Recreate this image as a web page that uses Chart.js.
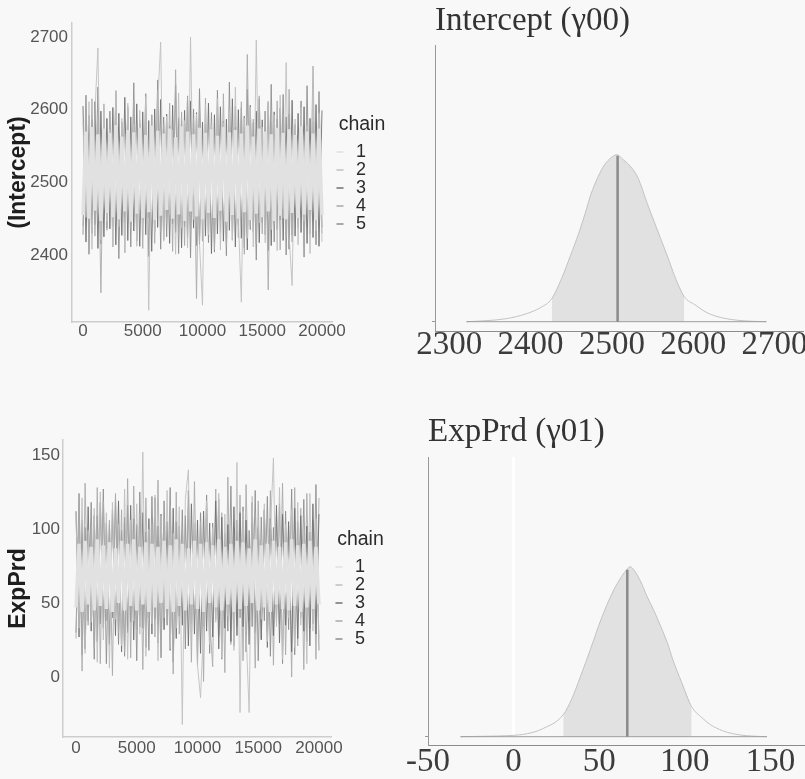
<!DOCTYPE html>
<html><head><meta charset="utf-8">
<script src="https://cdn.jsdelivr.net/npm/chart.js@4/dist/chart.umd.min.js"></script>
<style>
html,body{margin:0;padding:0;background:#f8f8f8;}
#wrap{position:relative;width:805px;height:779px;overflow:hidden;}
canvas{position:absolute;display:block;}
</style></head><body>
<div id="wrap">
<canvas id="traceTop" width="400" height="370" style="left:0;top:0"></canvas>
<canvas id="densTop" width="405" height="370" style="left:400px;top:0"></canvas>
<canvas id="traceBot" width="400" height="379" style="left:0;top:400px"></canvas>
<canvas id="densBot" width="405" height="379" style="left:400px;top:400px"></canvas>
</div>
<script>
// ---------------- DATA ----------------
const chainLabels = ['1','2','3','4','5'];
const iterations = [
0,250,500,750,1000,1250,1500,1750,2000,
2250,2500,2750,3000,3250,3500,3750,4000,4250,
4500,4750,5000,5250,5500,5750,6000,6250,6500,
6750,7000,7250,7500,7750,8000,8250,8500,8750,
9000,9250,9500,9750,10000,10250,10500,10750,11000,
11250,11500,11750,12000,12250,12500,12750,13000,13250,
13500,13750,14000,14250,14500,14750,15000,15250,15500,
15750,16000,16250,16500,16750,17000,17250,17500,17750,
18000,18250,18500,18750,19000,19250,19500,19750,20000];
const iterTicks = [0,5000,10000,15000,20000];

// (Intercept) chains
const interceptChain1 = [
2455,2570,2450,2576,2461,2566,2447,2574,2458,
2568,2452,2579,2449,2563,2460,2572,2446,2569,
2457,2575,2451,2565,2459,2578,2448,2571,2454,
2567,2462,2574,2450,2562,2456,2577,2447,2570,
2460,2566,2453,2575,2449,2568,2458,2573,2451,
2564,2461,2576,2446,2569,2455,2572,2450,2567,
2459,2578,2448,2563,2457,2574,2452,2570,2460,
2566,2447,2575,2454,2568,2449,2573,2458,2565,
2451,2577,2456,2570,2462,2567,2448,2574,2455];
const interceptChain2 = [
2584,2452,2611,2408,2597,2685,2421,2602,2446,
2573,2415,2626,2439,2588,2404,2609,2457,2580,
2412,2599,2443,2618,2324,2577,2431,2606,2693,
2419,2591,2455,2572,2401,2623,2437,2585,2410,
2700,2449,2594,2416,2331,2607,2428,2579,2453,
2615,2407,2582,2441,2598,2420,2631,2450,2335,
2589,2423,2604,2411,2696,2444,2576,2417,2612,
2435,2593,2406,2620,2451,2665,2426,2358,2587,
2414,2603,2447,2578,2402,2629,2433,2595,2418];
const interceptChain3 = [
2605,2418,2592,2430,2611,2409,2598,2425,2588,
2436,2603,2414,2595,2427,2617,2420,2590,2433,
2608,2412,2597,2428,2585,2405,2601,2438,2614,
2421,2594,2416,2606,2431,2589,2410,2599,2424,
2612,2437,2596,2415,2583,2426,2609,2402,2593,
2429,2604,2419,2587,2434,2615,2411,2600,2423,
2591,2407,2606,2432,2598,2417,2586,2428,2610,
2413,2597,2435,2602,2420,2590,2408,2613,2426,
2595,2431,2604,2416,2588,2424,2607,2412,2599];
const interceptChain4 = [
2440,2596,2417,2615,2426,2583,2348,2608,2434,
2590,2411,2621,2445,2579,2403,2600,2438,2613,
2422,2586,2409,2604,2451,2592,2416,2627,2432,
2581,2444,2609,2405,2655,2427,2597,2413,2618,
2436,2588,2340,2602,2419,2616,2447,2584,2408,
2593,2431,2622,2412,2577,2448,2605,2424,2611,
2401,2676,2439,2587,2415,2619,2429,2598,2352,
2583,2442,2612,2407,2594,2425,2628,2418,2580,
2437,2606,2411,2589,2450,2660,2420,2597,2430];
const interceptChain5 = [
2428,2620,2401,2586,2442,2631,2415,2579,2437,
2598,2440,2626,2395,2583,2445,2604,2411,2637,
2419,2581,2447,2622,2398,2593,2432,2641,2408,
2590,2425,2578,2443,2634,2402,2585,2439,2619,
2396,2601,2413,2629,2449,2580,2417,2596,2404,
2627,2446,2584,2399,2638,2421,2576,2441,2603,
2410,2628,2435,2582,2393,2615,2444,2598,2406,
2635,2418,2587,2448,2621,2400,2594,2427,2579,
2443,2612,2397,2633,2429,2584,2414,2625,2438];
const interceptTicks = [2400,2500,2600,2700];

// ExpPrd chains
const exprdChain1 = [
47,90,44,92,49,88,45,93,48,
89,46,91,44,87,50,92,45,90,
48,93,45,88,49,91,44,90,47,
88,50,92,46,89,44,93,48,90,
45,87,49,92,46,90,44,91,50,
89,47,93,45,88,49,90,44,92,
46,91,48,87,50,93,45,89,47,
90,44,92,49,88,46,91,45,93,
48,89,44,90,47,92,46,88,49];
const exprdChain2 = [
108,33,121,16,99,37,114,10,125,
25,111,6,118,39,103,21,127,12,
106,38,117,29,152,14,100,36,123,
11,109,40,126,19,97,33,115,-32,
120,140,27,104,8,-14,35,119,22,
101,37,124,13,110,41,98,18,145,
-24,112,30,-24,122,15,105,39,117,
24,99,148,34,128,12,103,40,113,
20,118,35,100,9,124,31,107,26];
const exprdChain3 = [
112,27,106,19,115,31,109,24,118,
33,104,22,113,28,119,17,108,30,
116,25,103,34,111,20,107,29,121,
23,110,32,105,18,114,26,102,35,
109,21,117,29,106,16,112,31,104,
27,119,19,108,33,103,24,115,28,
111,34,106,22,118,30,101,25,113,
20,107,28,116,23,110,35,105,17,
114,26,109,31,102,21,117,29,110];
const exprdChain4 = [
26,116,4,131,35,102,20,128,9,
119,38,106,1,124,30,113,17,134,
13,129,32,110,5,121,40,103,27,
133,18,107,37,116,2,125,29,100,
36,114,10,132,24,105,-3,118,39,
7,127,28,111,3,135,22,101,34,
123,11,130,38,104,6,119,26,112,
31,126,8,109,36,131,15,102,0,
128,21,114,5,124,33,106,12,121];
const exprdChain5 = [
30,124,15,101,38,118,12,109,36,
127,9,103,40,121,22,99,14,116,
37,107,11,125,33,98,18,122,39,
102,13,119,35,128,10,105,41,113,
19,126,36,100,8,111,34,123,16,
104,39,120,12,97,31,129,21,106,
40,115,17,99,34,126,11,108,38,
122,14,101,37,117,9,112,32,127,
15,105,40,120,24,98,36,130,18];
const exprdTicks = [0,50,100,150];

// posterior densities (relative heights)
const interceptDensX = [2321,2345,2370,2395,2412,2426,2438,2449,2459,2467,2474,2483,2491,2499,2506,2514,2522,2532,2544,2552,2560,2569,2577,2589,2602,2617,2635,2660,2690];
const interceptDensY = [0,1,3,8,14,23,43,66,88,108,127,145,157,164,167,162,156,144,117,100,83,64,46,25,17,9,4,1,0];
const interceptInterval = [2426,2589];
const interceptMedian = [2507,166];
const interceptDensTicks = [2300,2400,2500,2600,2700];

const exprdDensX = [-31,-15,-4,8,17,29,34,39,45,51,58,63,66,68,71,74,78,82,86,90,93,98,104,110,115,122,128,136,148];
const exprdDensY = [0,0.5,1,3,8,22,38,60,88,117,145,160,167,170,165,156,140,126,110,93,77,55,30,19,12,6,3,1,0];
const exprdInterval = [29,104];
const exprdMedian = [66.4,167];
const exprdZero = 0;
const exprdDensTicks = [-50,0,50,100,150];

// ---------------- STYLE ----------------
const SANS = "'Liberation Sans', Arial, sans-serif";
const SERIF = "'Liberation Serif', 'Times New Roman', serif";
const chainColors = ['#e1e1e1','#c0c0c0','#707070','#aaaaaa','#8e8e8e'];
const chainWidths = [3.5,0.9,0.9,0.9,0.9];

const legendWidthFix = {
  id: 'legendWidthFix',
  afterLayout(chart, args, opts) {
    const lg = chart.legend;
    if (lg && opts && opts.width) { lg.width = opts.width; lg.right = lg.left + opts.width; }
  }
};

function makeTrace(id, chains, o) {
  return new Chart(document.getElementById(id), {
    type: 'line',
    data: {
      labels: iterations,
      datasets: chains.map((d, i) => ({
        label: chainLabels[i], data: d,
        borderColor: chainColors[i], backgroundColor: chainColors[i],
        borderWidth: chainWidths[i], pointRadius: 0, tension: 0, fill: false
      }))
    },
    options: {
      responsive: false, animation: false, devicePixelRatio: 1,
      layout: { padding: { left: 0, right: o.padRight, top: o.padTop, bottom: 0 } },
      plugins: {
        tooltip: { enabled: false },
        legendWidthFix: { width: o.legendWidth },
        legend: {
          position: 'right', align: 'start',
          title: { display: true, text: 'chain', color: '#2b2b2b', font: { family: SANS, size: 19.5 },
                   padding: { top: o.legTitleTop, bottom: 4.35 } },
          labels: {
            usePointStyle: true, pointStyle: 'line', boxWidth: 14, boxHeight: 5, padding: 0,
            textAlign: 'left', color: '#2b2b2b', font: { family: SANS, size: 18 },
            generateLabels: chart => Chart.defaults.plugins.legend.labels.generateLabels(chart)
              .map(l => Object.assign(l, { lineWidth: 1.5, pointStyle: 'line' }))
          }
        }
      },
      scales: {
        x: {
          type: 'linear', min: o.xMin, max: o.xMax,
          afterBuildTicks: s => { s.ticks = iterTicks.map(v => ({ value: v })); },
          afterFit: s => { s.height = o.xHeight; },
          grid: { display: false, drawTicks: false },
          border: { display: true, color: '#cdcdcd', width: 1.5 },
          ticks: { autoSkip: false, maxRotation: 0, padding: o.xPad, color: '#555555',
                   font: { family: SANS, size: 17, lineHeight: 1 }, callback: v => String(v) }
        },
        y: {
          type: 'linear', min: o.yMin, max: o.yMax,
          afterBuildTicks: s => { s.ticks = o.yTicks.map(v => ({ value: v })); },
          afterFit: s => { s.width = o.yWidth; },
          grid: { display: false, drawTicks: false },
          border: { display: true, color: '#cdcdcd', width: 1.5 },
          ticks: { autoSkip: false, padding: o.yPad, color: '#555555',
                   font: { family: SANS, size: 17 }, callback: v => String(v) },
          title: { display: true, text: o.yTitle, color: '#1e1e1e',
                   font: { family: SANS, size: 23, weight: 'bold' }, padding: { top: 5.2, bottom: 0 } }
        }
      }
    },
    plugins: [legendWidthFix]
  });
}

function makeDensity(id, o) {
  const pts = o.xs.map((x, i) => ({ x: x, y: o.ys[i] }));
  const shaded = pts.filter(p => p.x >= o.interval[0] && p.x <= o.interval[1]);
  const datasets = [
    { data: [{ x: o.median[0], y: 0 }, { x: o.median[0], y: o.median[1] }],
      borderColor: '#8a8a8a', borderWidth: 2.5, pointRadius: 0 },
    { data: [{ x: o.xs[0], y: 0 }, { x: o.xs[o.xs.length - 1], y: 0 }],
      borderColor: '#9d9d9d', borderWidth: 1, pointRadius: 0 },
    { data: pts, borderColor: '#c2c2c2', borderWidth: 1, pointRadius: 0, cubicInterpolationMode: 'monotone' },
    { data: shaded, borderColor: 'rgba(0,0,0,0)', borderWidth: 0, pointRadius: 0,
      backgroundColor: '#e1e1e1', fill: 'origin', cubicInterpolationMode: 'monotone' }
  ];
  if (o.zero !== undefined) {
    datasets.push({ data: [{ x: o.zero, y: 0 }, { x: o.zero, y: o.yMax }],
      borderColor: '#ffffff', borderWidth: 3, pointRadius: 0 });
  }
  return new Chart(document.getElementById(id), {
    type: 'line',
    data: { datasets: datasets },
    options: {
      responsive: false, animation: false, devicePixelRatio: 1,
      layout: { padding: { left: o.padLeft, right: 0, top: 0, bottom: 0 } },
      plugins: {
        legend: { display: false }, tooltip: { enabled: false },
        title: { display: true, text: o.title, align: 'start', color: '#333333',
                 font: { family: SERIF, size: 33, weight: 'normal', lineHeight: 1.2 },
                 padding: { top: o.titleTop, bottom: o.titleBottom } }
      },
      scales: {
        x: {
          type: 'linear', min: o.xMin, max: o.xMax,
          afterBuildTicks: s => { s.ticks = o.xTicks.map(v => ({ value: v })); },
          afterFit: s => { s.height = o.xHeight; },
          grid: { display: false, drawTicks: false },
          border: { display: true, color: '#8c8c8c', width: 1 },
          ticks: { autoSkip: false, maxRotation: 0, padding: o.xPad, color: '#3c3c3c',
                   font: { family: SERIF, size: 33, lineHeight: 1 }, callback: v => String(v) }
        },
        y: {
          type: 'linear', min: o.yMin, max: o.yMax,
          afterBuildTicks: s => { s.ticks = [{ value: 0 }]; },
          afterFit: s => { s.width = 0; },
          grid: { display: true, drawOnChartArea: false, drawTicks: true, tickLength: 3, color: '#999999' },
          border: { display: true, color: '#999999', width: 1 },
          ticks: { padding: 0.5, color: '#666666', font: { family: SANS, size: 3 }, callback: () => o.yLabel }
        }
      }
    }
  });
}

makeTrace('traceTop', [interceptChain1, interceptChain2, interceptChain3, interceptChain4, interceptChain5], {
  padRight: 24, padTop: 23, legendWidth: 58, legTitleTop: 92.25, xMin: -920, xMax: 20920, xHeight: 48, xPad: 0.5,
  yMin: 2307.8, yMax: 2719.3, yTicks: interceptTicks, yWidth: 72, yPad: 4, yTitle: '(Intercept)'
});
makeTrace('traceBot', [exprdChain1, exprdChain2, exprdChain3, exprdChain4, exprdChain5], {
  padRight: 25, padTop: 40, legendWidth: 57, legTitleTop: 90.25, xMin: -1070, xMax: 21070, xHeight: 42, xPad: 2.5,
  yMin: -40.5, yMax: 160.1, yTicks: exprdTicks, yWidth: 63, yPad: 3, yTitle: 'ExpPrd'
});
makeDensity('densTop', {
  xs: interceptDensX, ys: interceptDensY, interval: interceptInterval, median: interceptMedian,
  title: 'Intercept (\u03b300)', yLabel: '(Intercept)', padLeft: 35, titleTop: 1.1, titleBottom: 4.3,
  xMin: 2282.4, xMax: 2735.8, xTicks: interceptDensTicks, xHeight: 39, xPad: -2.5,
  yMin: -9.3, yMax: 276.7
});
makeDensity('densBot', {
  xs: exprdDensX, ys: exprdDensY, interval: exprdInterval, median: exprdMedian, zero: exprdZero,
  title: 'ExpPrd (\u03b301)', yLabel: 'ExpPrd', padLeft: 28, titleTop: 12.1, titleBottom: 5.3,
  xMin: -50, xMax: 170.2, xTicks: exprdDensTicks, xHeight: 33.3, xPad: 0.3,
  yMin: -9, yMax: 279.7
});
</script>
</body></html>
